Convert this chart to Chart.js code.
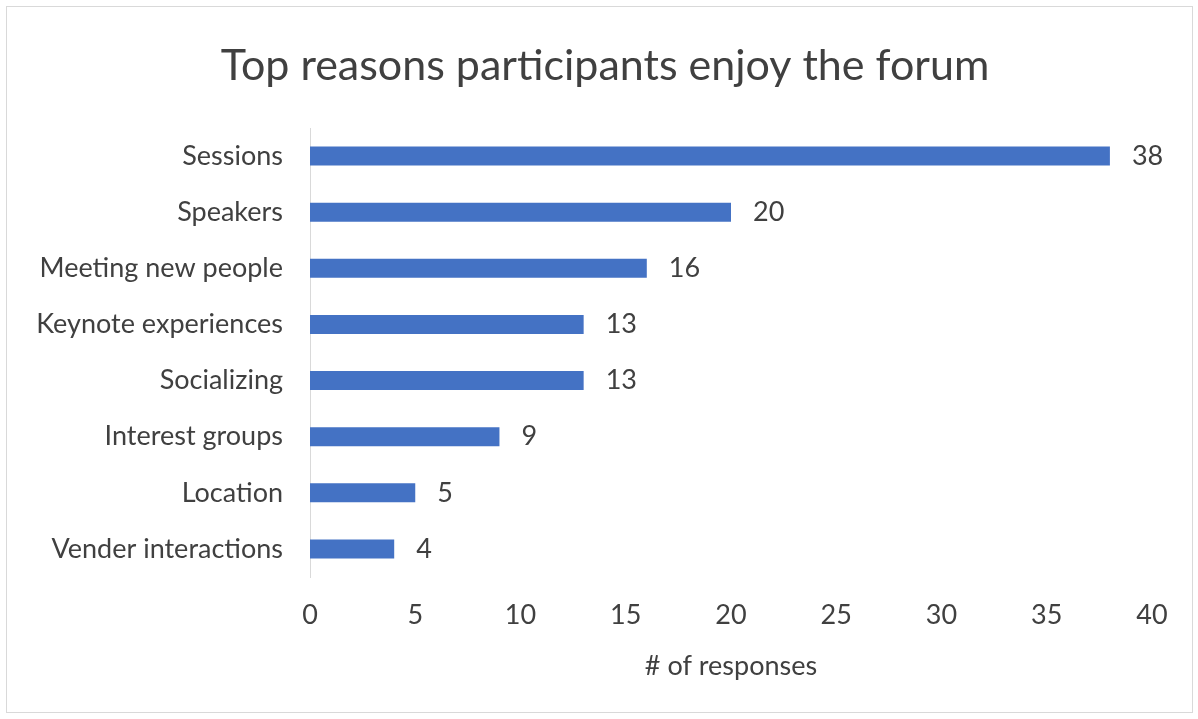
<!DOCTYPE html>
<html>
<head>
<meta charset="utf-8">
<script src="https://cdn.jsdelivr.net/npm/chart.js@4"></script>
<style>
  html, body { margin: 0; padding: 0; background: #fff; }
  #frame {
    position: absolute; left: 6px; top: 6px;
    width: 1185px; height: 705px;
    border: 1px solid #d9d9d9;
  }
</style>
</head>
<body>
<div id="frame"><canvas id="chart"></canvas></div>
<script>
// data
const categories = ['Sessions', 'Speakers', 'Meeting new people', 'Keynote experiences',
  'Socializing', 'Interest groups', 'Location', 'Vender interactions'];
const responses = [38, 20, 16, 13, 13, 9, 5, 4];
const xTicks = [0, 5, 10, 15, 20, 25, 30, 35, 40];
const chartTitle = 'Top reasons participants enjoy the forum';

const FONT = 'Lato, "Open Sans", sans-serif';
const TEXT = '#404040';

// value labels at the end of each bar
const valueLabels = {
  id: 'valueLabels',
  afterDatasetsDraw(chart) {
    const ctx = chart.ctx;
    const meta = chart.getDatasetMeta(0);
    ctx.save();
    ctx.font = '27px ' + FONT;
    ctx.fillStyle = TEXT;
    ctx.textAlign = 'left';
    ctx.textBaseline = 'middle';
    meta.data.forEach((bar, i) => {
      ctx.fillText(String(responses[i]), bar.x + 22, bar.y);
    });
    ctx.restore();
  }
};

// title centred on the whole frame, not just the padded box
const frameTitle = {
  id: 'frameTitle',
  afterDraw(chart) {
    const ctx = chart.ctx;
    ctx.save();
    ctx.font = '43px ' + FONT;
    ctx.fillStyle = TEXT;
    ctx.textAlign = 'center';
    ctx.textBaseline = 'middle';
    ctx.fillText(chartTitle, 598, 59);
    ctx.restore();
  }
};

const ctx = document.getElementById('chart').getContext('2d');
new Chart(ctx, {
  type: 'bar',
  data: {
    labels: categories,
    datasets: [{
      data: responses,
      backgroundColor: '#4472c4',
      borderWidth: 0,
      categoryPercentage: 1,
      barPercentage: 0.34
    }]
  },
  options: {
    indexAxis: 'y',
    responsive: true,
    maintainAspectRatio: false,
    animation: false,
    layout: { padding: { top: 121, right: 40, bottom: 0, left: 0 } },
    plugins: {
      legend: { display: false },
      tooltip: { enabled: false },
      title: { display: false }
    },
    scales: {
      x: {
        min: 0, max: 40,
        afterBuildTicks(scale) { scale.ticks = xTicks.map(v => ({ value: v })); },
        grid: { display: false, drawTicks: false },
        border: { display: false },
        ticks: { color: TEXT, font: { family: FONT, size: 27 }, padding: 22 },
        title: {
          display: true, text: '# of responses', color: TEXT,
          font: { family: FONT, size: 27 }, padding: { top: 20, bottom: 30 }
        },
        afterFit(scale) { scale.height = 135; }
      },
      y: {
        grid: { display: false, drawTicks: false },
        border: { display: true, color: '#d9d9d9', width: 1 },
        ticks: { color: TEXT, font: { family: FONT, size: 27 }, padding: 27 },
        afterFit(scale) { scale.width = 303; }
      }
    }
  },
  plugins: [valueLabels, frameTitle]
});
</script>
</body>
</html>
